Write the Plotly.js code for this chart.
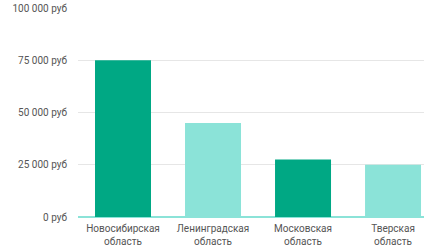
<!DOCTYPE html>
<html><head><meta charset="utf-8">
<script src="https://cdn.plot.ly/plotly-3.0.1.min.js"></script>
<style>html,body{margin:0;padding:0;background:#fff;overflow:hidden}#c{width:424px;height:250px}</style>
</head><body><div id="c"></div>
<script>
const categories = ["Новосибирская<br>область", "Ленинградская<br>область", "Московская<br>область", "Тверская<br>область"];
const values = [75000, 45000, 27500, 25000];
const barColors = ["#00a884", "#8be3d8", "#00a884", "#8be3d8"];
const yTickVals = [0, 25000, 50000, 75000, 100000];
const yTickText = ["0 руб", "25 000 руб", "50 000 руб", "75 000 руб", "100 000 руб"];

Plotly.newPlot("c", [{
  type: "bar",
  x: [0, 1, 2, 3],
  y: values,
  marker: {color: barColors},
  hoverinfo: "none"
}], {
  width: 424, height: 250,
  margin: {l: 78, r: 0, t: 8, b: 33},
  paper_bgcolor: "#fff", plot_bgcolor: "#fff",
  bargap: 0.378,
  showlegend: false,
  font: {family: "Roboto, Arial, sans-serif", size: 10, color: "#555"},
  xaxis: {
    range: [-0.5, 3.344],
    tickvals: [0, 1, 2, 3],
    ticktext: categories,
    showgrid: false, zeroline: false, showline: false,
    ticks: "", ticklabelstandoff: 4, tickfont: {size: 10, color: "#555"}
  },
  yaxis: {
    range: [0, 100000],
    tickvals: yTickVals,
    ticktext: yTickText,
    showgrid: true, gridcolor: "#e6e6e6", gridwidth: 1,
    zeroline: true, zerolinecolor: "#8be3d8", zerolinewidth: 2,
    ticks: "", ticklen: 0, ticklabelstandoff: 10, tickfont: {size: 10, color: "#555"}
  }
}, {staticPlot: true});
</script></body></html>
